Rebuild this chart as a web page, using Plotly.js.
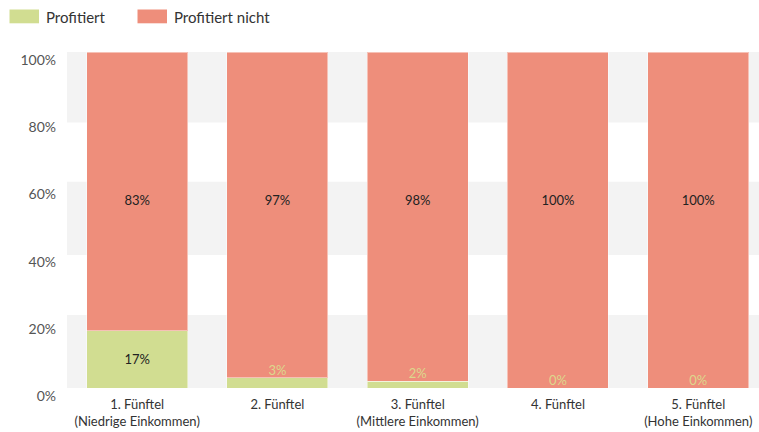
<!DOCTYPE html>
<html>
<head>
<meta charset="utf-8">
<script src="https://cdn.plot.ly/plotly-3.0.1.min.js"></script>
<style>html,body{margin:0;padding:0;background:#fff;}#chart{width:759px;height:432px;}</style>
</head>
<body>
<div id="chart"></div>
<script>
const categories = ['1. Fünftel<br>(Niedrige Einkommen)', '2. Fünftel', '3. Fünftel<br>(Mittlere Einkommen)', '4. Fünftel', '5. Fünftel<br>(Hohe Einkommen)'];
const profitiert = [17, 3, 2, 0, 0];
const profitiertNicht = [83, 97, 98, 100, 100];
const seriesNames = ['Profitiert', 'Profitiert nicht'];
const yTickVals = [0, 20, 40, 60, 80, 100];
const yTickText = ['0%', '20%', '40%', '60%', '80%', '100%'];

const GREEN = '#d1dd91';
const SALMON = '#ee8e7b';
const SMALL_LABEL_COLOR = '#dcd88c';
const FONT = 'Lato, "Open Sans", sans-serif';
const INSIDE_MIN = 10;
const NICHT_LABEL_Y = 55.5;

const pct = v => v + '%';

const traces = [
  {
    type: 'bar', name: seriesNames[0], x: categories, y: profitiert,
    marker: {color: GREEN, line: {color: 'rgba(255,255,255,0.45)', width: 1}},
    text: profitiert.map(v => v >= INSIDE_MIN ? pct(v) : ''),
    textposition: 'inside', insidetextanchor: 'middle', constraintext: 'none', textangle: 0,
    textfont: {family: FONT, size: 13, color: '#222'},
    hoverinfo: 'skip', showlegend: false
  },
  {
    type: 'bar', name: seriesNames[1], x: categories, y: profitiertNicht,
    marker: {color: SALMON, line: {color: 'rgba(255,255,255,0.45)', width: 1}},
    hoverinfo: 'skip', showlegend: false
  },
  {
    type: 'scatter', mode: 'text', x: categories,
    y: profitiert.map(v => v),
    text: profitiert.map(v => v < INSIDE_MIN ? pct(v) : ''),
    textposition: 'top center',
    textfont: {family: FONT, size: 13, color: SMALL_LABEL_COLOR},
    hoverinfo: 'skip', showlegend: false, cliponaxis: false
  },
  {
    type: 'scatter', mode: 'text', x: categories,
    y: profitiertNicht.map(() => NICHT_LABEL_Y),
    text: profitiertNicht.map(pct),
    textposition: 'middle center',
    textfont: {family: FONT, size: 13, color: '#222'},
    hoverinfo: 'skip', showlegend: false
  }
];

const L = 67, W = 692, T = 52, H = 336;
const px = x => (x - L) / W;
const py = y => (T + H - y) / H;

const bands = [[-0.3, 21.7], [39.6, 61.4], [79.0, 100.3]];
const shapes = bands.map(b => ({
  type: 'rect', xref: 'paper', yref: 'y', x0: 0, x1: 1, y0: b[0], y1: b[1],
  fillcolor: '#f3f3f3', line: {width: 0}, layer: 'below'
}));
shapes.push(
  {type: 'rect', xref: 'paper', yref: 'paper', x0: px(9.5), x1: px(39), y0: py(23.3), y1: py(9.5), fillcolor: GREEN, line: {width: 0}},
  {type: 'rect', xref: 'paper', yref: 'paper', x0: px(137.5), x1: px(167), y0: py(23.3), y1: py(9.5), fillcolor: SALMON, line: {width: 0}}
);

const annotations = [
  {xref: 'paper', yref: 'paper', x: px(44), y: py(16.5), xanchor: 'left', yanchor: 'middle', text: seriesNames[0], showarrow: false, font: {family: FONT, size: 15, color: '#333'}},
  {xref: 'paper', yref: 'paper', x: px(172), y: py(16.5), xanchor: 'left', yanchor: 'middle', text: seriesNames[1], showarrow: false, font: {family: FONT, size: 15, color: '#333'}}
];

const layout = {
  width: 759, height: 432,
  margin: {l: L, r: 759 - L - W, t: T, b: 432 - T - H, pad: 0},
  barmode: 'stack', bargap: 0.28,
  paper_bgcolor: '#fff', plot_bgcolor: 'rgba(0,0,0,0)',
  showlegend: false,
  font: {family: FONT, color: '#444'},
  xaxis: {
    type: 'category', range: [-0.5, 4.433], showgrid: false, zeroline: false, showline: false,
    ticks: '', ticklabelstandoff: 7, tickfont: {family: FONT, size: 13, color: '#333'}, fixedrange: true, automargin: false
  },
  yaxis: {
    range: [0, 100], tickvals: yTickVals, ticktext: yTickText, showgrid: false, zeroline: false,
    showline: false, ticks: '', ticklabelshift: 8, ticklabelstandoff: 10,
    tickfont: {family: FONT, size: 14, color: '#555'}, fixedrange: true, automargin: false
  },
  shapes: shapes,
  annotations: annotations
};

Plotly.newPlot('chart', traces, layout, {displayModeBar: false, staticPlot: true});
</script>
</body>
</html>
